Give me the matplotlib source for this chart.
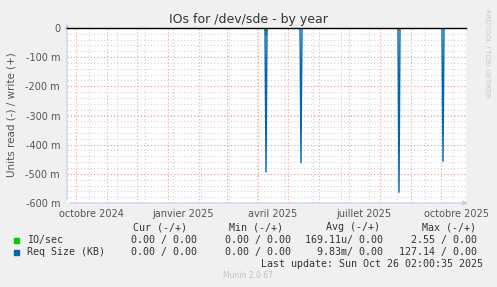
import matplotlib
matplotlib.use("Agg")
import matplotlib.pyplot as plt
import matplotlib.dates as mdates
import numpy as np
import pandas as pd
from matplotlib.patches import Rectangle

# ---- data ----
range_start = "2024-09-22"
range_end = "2025-10-26"
req_spike_dates = ["2025-04-09", "2025-05-14", "2025-08-20", "2025-10-03"]
req_spike_read = [0.494, 0.462, 0.563, 0.457]          # Req Size read (units)
io_spike_dates = ["2025-04-09", "2025-08-20"]
io_spike_read = [0.025, 0.006]                         # IO/sec read (units)
y_ticks = [0, -0.1, -0.2, -0.3, -0.4, -0.5, -0.6]
x_label_dates = ["2024-10-16", "2025-01-16", "2025-04-16", "2025-07-16", "2025-10-16"]
x_labels = ["octobre 2024", "janvier 2025", "avril 2025", "juillet 2025", "octobre 2025"]
title = "IOs for /dev/sde - by year"
ylabel = "Units read (-) / write (+)"
legend_names = ["IO/sec", "Req Size (KB)"]
legend_colors = ["#00CC00", "#0066B3"]
legend_cur = ["0.00 / 0.00", "0.00 / 0.00"]
legend_min = ["0.00 / 0.00", "0.00 / 0.00"]
legend_avg = ["169.11u/ 0.00", "9.83m/ 0.00"]
legend_max = ["2.55 / 0.00", "127.14 / 0.00"]
last_update = "Last update: Sun Oct 26 02:00:35 2025"

W, H = 497, 287
fig = plt.figure(figsize=(W / 100, H / 100), dpi=100)
fig.patch.set_facecolor("#F0F0F0")

L, R, T, B = 67, 466, 28, 203
ax = fig.add_axes([L / W, 1 - B / H, (R - L) / W, (B - T) / H])
ax.set_facecolor("#FFFFFF")

days = pd.date_range(range_start, range_end, freq="D")
req = pd.Series(0.0, index=days)
for d, v in zip(req_spike_dates, req_spike_read):
    req[pd.Timestamp(d)] = -v
io = pd.Series(0.0, index=days)
for d, v in zip(io_spike_dates, io_spike_read):
    io[pd.Timestamp(d)] = -v

x0 = pd.Timestamp(range_start)
x1 = pd.Timestamp(range_end)
ax.set_xlim(x0, x1)
ax.set_ylim(-0.6, 0.0)

# grid: minor (gray) every 4 weeks, major (red) month starts
gcol_minor = "#D4D4D4"
gcol_major = "#E9A8A8"
ls = (0, (1, 2))
for d in pd.date_range("2024-10-14", range_end, freq="28D"):
    ax.axvline(d, color=gcol_minor, lw=0.8, ls=ls, zorder=1)
for yv in np.arange(-0.6, 0.001, 0.02):
    ax.axhline(yv, color=gcol_minor, lw=0.8, ls=ls, zorder=1)
for d in pd.date_range(range_start, range_end, freq="MS"):
    ax.axvline(d, color=gcol_major, lw=0.8, ls=ls, zorder=1.5)
for yv in y_ticks:
    ax.axhline(yv, color=gcol_major, lw=0.8, ls=ls, zorder=1.5)

ax.plot(io.index, io.values, color=legend_colors[0], lw=1.0, zorder=3)
ax.plot(req.index, req.values, color=legend_colors[1], lw=1.0, zorder=3)
ax.axhline(0, color="#000000", lw=1.0, zorder=4, clip_on=False)

for s in ax.spines.values():
    s.set_visible(False)

# axis lines with arrows
acol = "#C8C8F0"
ax.annotate("", xy=(0, 1.04), xytext=(0, 0), xycoords="axes fraction",
            arrowprops=dict(arrowstyle="-|>", color=acol, lw=0.8, mutation_scale=7),
            annotation_clip=False)
ax.annotate("", xy=(1.012, 0), xytext=(0, 0), xycoords="axes fraction",
            arrowprops=dict(arrowstyle="-|>", color=acol, lw=0.8, mutation_scale=7),
            annotation_clip=False)

tcol = "#555555"
ax.set_yticks(y_ticks)
ax.set_yticklabels(["0" if v == 0 else f"{int(round(v * 1000))} m" for v in y_ticks])
ax.set_xticks([pd.Timestamp(d) for d in x_label_dates])
ax.set_xticklabels(x_labels)
ax.tick_params(axis="both", length=0, labelsize=7, colors=tcol, pad=4)
ax.tick_params(axis="y", pad=5)

fig.text(248 / W, 1 - 19 / H, title, ha="center", va="center", fontsize=9, color="#333333")
fig.text(12 / W, 1 - 115 / H, ylabel, ha="center", va="center", rotation=90,
         fontsize=7.5, color=tcol)
fig.text(487 / W, 1 - 53 / H, "RRDTOOL / TOBI OETIKER", ha="center", va="center",
         rotation=270, fontsize=5, color="#C8C8C8")

mono = "DejaVu Sans Mono"
lc = "#333333"
fs = 7.2
def ft(x, y, s, ha="left", **kw):
    fig.text(x / W, 1 - y / H, s, ha=ha, va="center", family=mono, fontsize=fs, color=lc, **kw)

ft(187, 227, "Cur (-/+)", ha="right")
ft(283, 227, "Min (-/+)", ha="right")
ft(380, 227, "Avg (-/+)", ha="right")
ft(476, 227, "Max (-/+)", ha="right")
for i, yy in enumerate([240, 252]):
    fig.patches.append(Rectangle((14 / W, 1 - (yy + 3) / H), 5 / W, 5 / H,
                                 transform=fig.transFigure, color=legend_colors[i]))
    ft(27, yy, legend_names[i])
    ft(197, yy, legend_cur[i], ha="right")
    ft(291, yy, legend_min[i], ha="right")
    ft(383, yy, legend_avg[i], ha="right")
    ft(477, yy, legend_max[i], ha="right")
ft(483, 264, last_update, ha="right")
fig.text(248 / W, 1 - 276 / H, "Munin 2.0.67", ha="center", va="center",
         fontsize=5.5, color="#C0C0C0")

fig.savefig("out.png", dpi=100, facecolor=fig.get_facecolor())
